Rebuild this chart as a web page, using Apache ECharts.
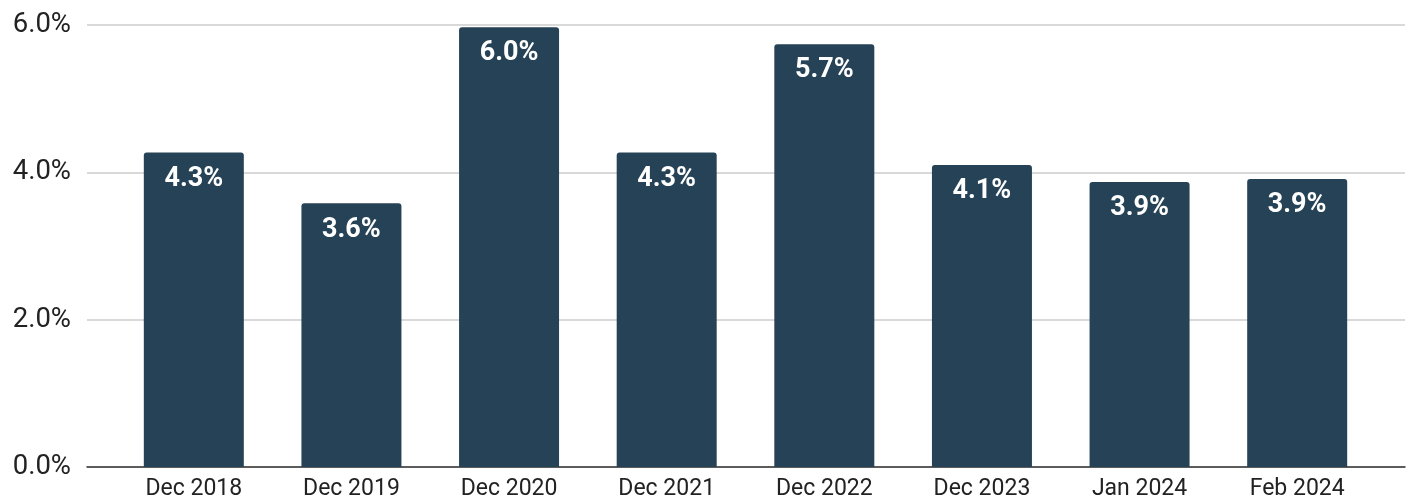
<!DOCTYPE html>
<html>
<head>
<meta charset="utf-8">
<script src="https://cdn.jsdelivr.net/npm/echarts@6/dist/echarts.min.js"></script>
<style>html,body{margin:0;padding:0;background:#fff;}#c{width:1412px;height:501px;}</style>
</head>
<body>
<div id="c"></div>
<script>
const categories = ['Dec 2018','Dec 2019','Dec 2020','Dec 2021','Dec 2022','Dec 2023','Jan 2024','Feb 2024'];
const values = [4.27, 3.58, 5.97, 4.27, 5.74, 4.10, 3.87, 3.91];
const yTicks = [0, 2, 4, 6];

const chart = echarts.init(document.getElementById('c'));
chart.setOption({
  animation: false,
  textStyle: { fontFamily: 'Roboto' },
  grid: [
    { left: 87, right: 7, top: 25, bottom: 34 },
    { left: 115, right: 36, top: 25, bottom: 34 }
  ],
  xAxis: [
    { gridIndex: 0, type: 'value', min: 0, max: 1, axisLabel: { show: false }, axisTick: { show: false },
      splitLine: { show: false }, axisLine: { show: true, lineStyle: { color: '#333', width: 1.5 } } },
    { gridIndex: 1, type: 'category', data: categories, axisLine: { show: false }, axisTick: { show: false },
      axisLabel: { color: '#222', fontSize: 23, margin: 11 } }
  ],
  yAxis: [
    { gridIndex: 0, type: 'value', min: yTicks[0], max: yTicks[yTicks.length-1], interval: 2,
      axisLine: { show: false }, axisTick: { show: false },
      axisLabel: { color: '#222', fontSize: 27.5, margin: 16, formatter: v => v.toFixed(1) + '%' },
      splitLine: { lineStyle: { color: '#cccccc', width: 1.5 } } },
    { gridIndex: 1, type: 'value', min: yTicks[0], max: yTicks[yTicks.length-1], interval: 2,
      axisLine: { show: false }, axisTick: { show: false }, axisLabel: { show: false }, splitLine: { show: false } }
  ],
  series: [{
    type: 'bar', xAxisIndex: 1, yAxisIndex: 1, data: values, barWidth: 100,
    itemStyle: { color: '#264256', borderRadius: [3, 3, 0, 0] },
    label: { show: true, position: 'insideTop', distance: 13, color: '#fff', fontSize: 27, fontWeight: 'bold',
      formatter: p => p.value.toFixed(1) + '%' }
  }]
});
</script>
</body>
</html>
